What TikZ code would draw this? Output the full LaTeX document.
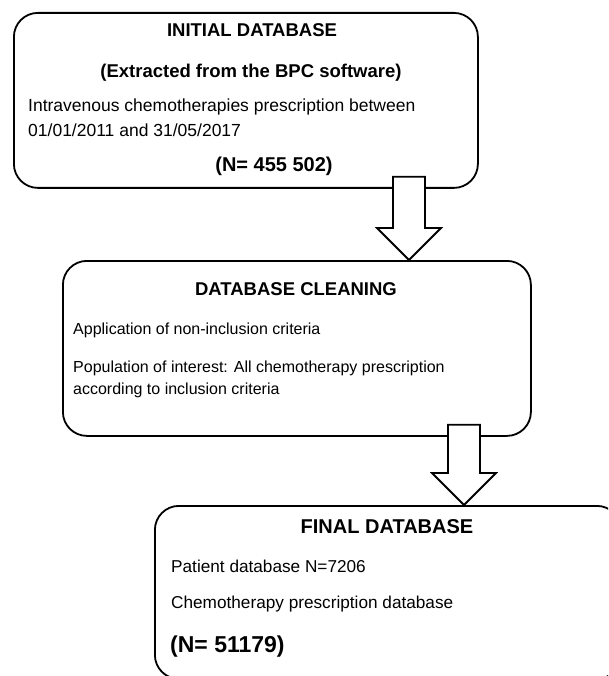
\documentclass[tikz,border=0pt]{standalone}
\usepackage{fontspec}
\setmainfont{Liberation Sans}
\usetikzlibrary{calc}

\tikzset{
  dbbox/.style={draw,line width=1.8pt,rounded corners=24pt,anchor=north west,inner sep=0pt},
  ttl/.style={font=\bfseries\fontsize{18.5}{22}\selectfont,anchor=base,inner sep=0pt},
  txt/.style={font=\fontsize{#1}{20}\selectfont,anchor=base west,inner sep=0pt},
  txt/.default=17,
  blockarrow/.style={draw,fill=white,line width=1.8pt,line join=miter}
}

\begin{document}
\begin{tikzpicture}[x=1pt,y=-1pt]
    \useasboundingbox (0,0) rectangle (608,676);
    \clip (0,0) rectangle (608,676);
    \node[dbbox,minimum width=464pt,minimum height=175pt] (init) at (13,12) {};
    \node[dbbox,minimum width=468pt,minimum height=175pt] (clean) at (62,260) {};
    \node[dbbox,minimum width=466pt,minimum height=173pt] (final) at (154,505) {};
    \foreach \from/\to/\ax in {init/clean/409,clean/final/464}{
        \coordinate (s) at (\ax,0 |- \from.south);
        \coordinate (t) at (\ax,0 |- \to.north);
        \draw[blockarrow] ([shift={(-16,-12)}]s) -- ([shift={(-16,-32)}]t)
            -- ([shift={(-32,-32)}]t) -- (t) -- ([shift={(32,-32)}]t)
            -- ([shift={(16,-32)}]t) -- ([shift={(16,-12)}]s) -- cycle;
    }
    \node[ttl] (t1) at (252,37) {INITIAL DATABASE};
    \node[ttl] (s1) at (251,78) {(Extracted from the BPC software)};
    \node[txt=17.5] (a1) at (28,112) {Intravenous chemotherapies prescription between};
    \node[txt=17.5] (b1) at (28,137) {01/01/2011 and 31/05/2017};
    \node[ttl,font=\bfseries\fontsize{20}{24}\selectfont] (n1) at (274,172) {(N= 455 502)};
    \node[ttl] (t2) at (296,295) {DATABASE CLEANING};
    \node[txt=16] (a2) at (73,334) {Application of non-inclusion criteria};
    \node[txt=16] (b2) at (73,372) {Population of interest: All chemotherapy prescription};
    \node[txt=16] (c2) at (73,394) {according to inclusion criteria};
    \node[ttl,font=\bfseries\fontsize{20}{24}\selectfont] (t3) at (387,533) {FINAL DATABASE};
    \node[txt=17.2] (a3) at (171,572) {Patient database N=7206};
    \node[txt=17.2] (b3) at (171,608) {Chemotherapy prescription database};
    \node[txt,font=\bfseries\fontsize{23}{28}\selectfont] (n3) at (170,652) {(N= 51179)};
\end{tikzpicture}
\end{document}
